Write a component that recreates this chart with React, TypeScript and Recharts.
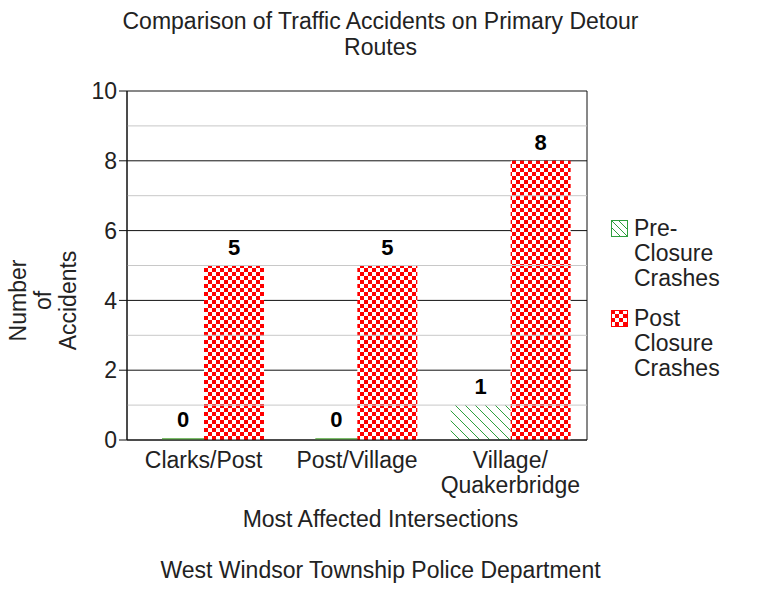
import React from 'react'
import { BarChart, Bar, XAxis, YAxis, CartesianGrid, ReferenceLine, LabelList } from 'recharts'

const categories = ['Clarks/Post', 'Post/Village', 'Village/\nQuakerbridge']
const preClosure = [0, 0, 1]
const postClosure = [5, 5, 8]
const majorTicks = [0, 2, 4, 6, 8, 10]
const minorTicks = [1, 3, 5, 7, 9]
const boundTicks = [0, 1, 2, 3]

const data = categories.map((name, i) => ({ name, pre: preClosure[i], post: postClosure[i] }))

const FONT = '"Liberation Sans", Arial, sans-serif'
const FS = 23
// zero bars are drawn as a thin line, inset from the left of the slot
const ZERO_INSET = 18

const CatTick = (props: any) => {
  const { x, y, payload } = props
  const lines = String(payload.value).split('\n')
  return (
    <text x={x} y={y} textAnchor="middle" fontSize={FS} fontFamily={FONT} fill="#222">
      {lines.map((l, i) => (
        <tspan key={i} x={x} dy={i === 0 ? 12 : 25}>{l}</tspan>
      ))}
    </text>
  )
}

const PreShape = (props: any) => {
  const { x, y, width, height, value } = props
  if (!value) {
    return <rect x={x + ZERO_INSET} y={y + height - 2} width={width - ZERO_INSET} height={2} fill="#7cbd6a" />
  }
  return <rect x={x} y={y} width={width} height={height} fill="url(#hatch)" />
}

const ValueLabel = (props: any) => {
  const { x, y, width, value } = props
  const cx = value ? x + width / 2 : x + (width + ZERO_INSET) / 2
  return (
    <text x={cx} y={y - 11} textAnchor="middle" fontSize={22} fontWeight="bold" fontFamily={FONT} fill="#000">
      {value}
    </text>
  )
}

export default function App() {
  return (
    <div style={{ position: 'absolute', left: 0, top: 0, width: 761, height: 589, background: '#fff', fontFamily: FONT, color: '#222' }}>
      <div style={{ position: 'absolute', top: 8, left: 0, width: 761, textAlign: 'center', fontSize: FS, lineHeight: '26px' }}>
        Comparison of Traffic Accidents on Primary Detour<br />Routes
      </div>
      <BarChart
        width={761}
        height={589}
        data={data}
        margin={{ top: 91, right: 174, bottom: 85, left: 79 }}
        barSize={60}
        barGap={0}
      >
        <defs>
          <pattern id="hatch" patternUnits="userSpaceOnUse" width={10} height={10}>
            <path d="M-2,-2 L12,12 M-2,8 L2,12 M8,-2 L12,2" stroke="#2e9e3e" strokeWidth={1} />
          </pattern>
          <pattern id="checker" patternUnits="userSpaceOnUse" width={8} height={8}>
            <rect x={0} y={0} width={8} height={8} fill="#fff" />
            <rect x={0} y={0} width={4} height={4} fill="#ff0000" />
            <rect x={4} y={4} width={4} height={4} fill="#ff0000" />
          </pattern>
        </defs>
        {minorTicks.map(v => (
          <ReferenceLine key={v} y={v} yAxisId="main" stroke="#c8c8c8" strokeWidth={1} />
        ))}
        <CartesianGrid xAxisId="bounds" yAxisId="main" stroke="#111" strokeWidth={1} />
        <XAxis
          xAxisId="bounds"
          type="number"
          domain={[0, 3]}
          ticks={boundTicks}
          height={8}
          tickSize={7}
          tick={false}
          axisLine={{ stroke: '#111' }}
          tickLine={{ stroke: '#111' }}
        />
        <XAxis
          xAxisId="cat"
          dataKey="name"
          height={56}
          axisLine={false}
          tickLine={false}
          interval={0}
          tick={<CatTick />}
        />
        <YAxis
          yAxisId="main"
          domain={[0, 10]}
          ticks={majorTicks}
          width={48}
          tickSize={8}
          tickMargin={2}
          axisLine={{ stroke: '#111' }}
          tickLine={{ stroke: '#111' }}
          tick={{ fontSize: FS, fontFamily: FONT, fill: '#222' }}
        />
        <Bar dataKey="pre" xAxisId="cat" yAxisId="main" shape={<PreShape />} minPointSize={2} isAnimationActive={false}>
          <LabelList dataKey="pre" content={<ValueLabel />} />
        </Bar>
        <Bar dataKey="post" xAxisId="cat" yAxisId="main" fill="url(#checker)" isAnimationActive={false}>
          <LabelList dataKey="post" content={<ValueLabel />} />
        </Bar>
      </BarChart>
      <div style={{ position: 'absolute', left: -57, top: 263, width: 200, height: 75, transform: 'rotate(-90deg)', textAlign: 'center', fontSize: FS, lineHeight: '25px' }}>
        Number<br />of<br />Accidents
      </div>
      <div style={{ position: 'absolute', left: 611, top: 216, fontSize: FS, lineHeight: '25px' }}>
        <div style={{ display: 'flex', alignItems: 'flex-start' }}>
          <svg width={17} height={17} style={{ marginTop: 4, marginRight: 6 }}>
            <rect x={0.5} y={0.5} width={16} height={16} fill="#fff" stroke="#2e9e3e" />
            <path d="M1,1 L16,16 M1,8 L9,16 M8,1 L16,9" stroke="#2e9e3e" />
          </svg>
          <div>Pre-<br />Closure<br />Crashes</div>
        </div>
        <div style={{ display: 'flex', alignItems: 'flex-start', marginTop: 15 }}>
          <svg width={17} height={17} style={{ marginTop: 4, marginRight: 6 }}>
            <rect x={0.5} y={0.5} width={16} height={16} fill="url(#checker)" stroke="#ff0000" />
          </svg>
          <div>Post<br />Closure<br />Crashes</div>
        </div>
      </div>
      <div style={{ position: 'absolute', top: 506, left: 0, width: 761, textAlign: 'center', fontSize: FS }}>
        Most Affected Intersections
      </div>
      <div style={{ position: 'absolute', top: 557, left: 0, width: 761, textAlign: 'center', fontSize: FS }}>
        West Windsor Township Police Department
      </div>
    </div>
  )
}
